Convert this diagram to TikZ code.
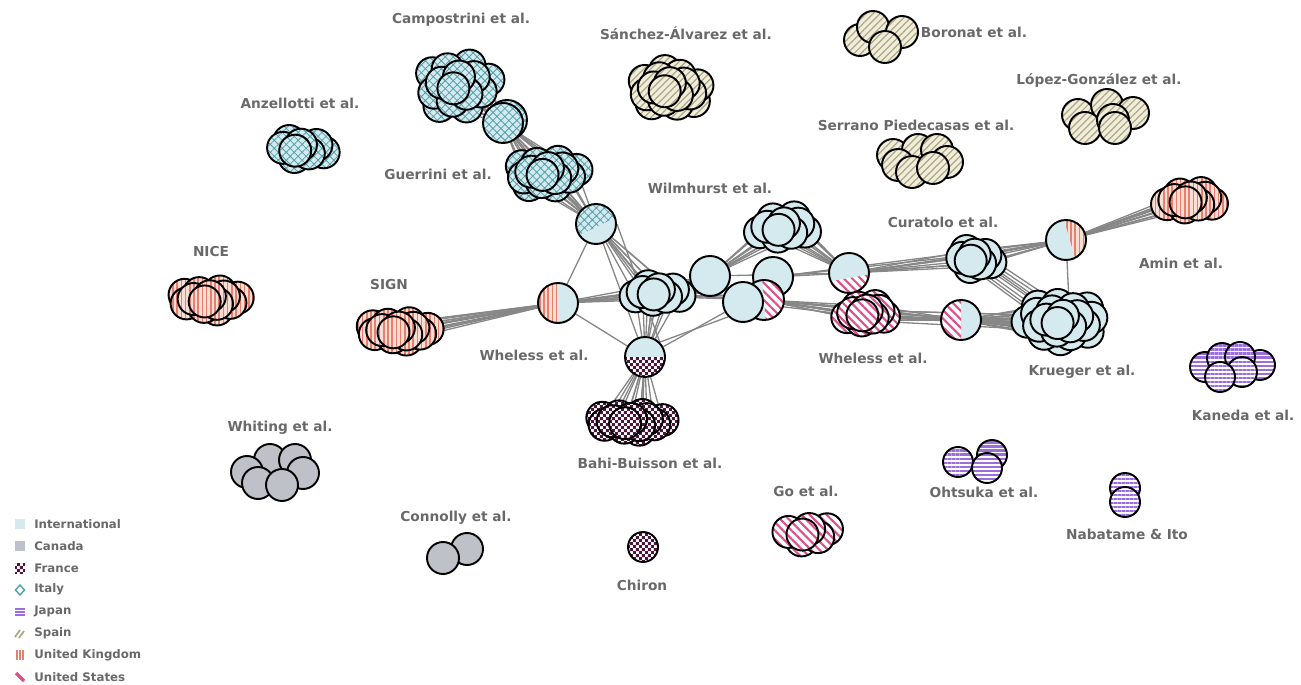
\documentclass[tikz,border=0pt]{standalone}
\usepackage{fontspec}
\setmainfont{DejaVu Sans}
\usetikzlibrary{patterns.meta, backgrounds}

\definecolor{intl}{RGB}{212,234,239}
\definecolor{canada}{RGB}{190,194,200}
\definecolor{france}{RGB}{78,22,62}
\definecolor{italy}{RGB}{80,160,172}
\definecolor{japan}{RGB}{155,110,220}
\definecolor{spainbg}{RGB}{240,237,220}
\definecolor{spain}{RGB}{176,168,128}
\definecolor{ukbg}{RGB}{250,222,212}
\definecolor{uk}{RGB}{228,128,108}
\definecolor{usa}{RGB}{220,80,140}
\definecolor{labelgray}{RGB}{105,105,105}
\definecolor{edgegray}{RGB}{135,135,135}

% feines Schachbrett fuer Frankreich
\pgfdeclarepattern{
  name=finechecker, type=uncolored,
  bottom left={\pgfpointorigin}, top right={\pgfpoint{3.4pt}{3.4pt}},
  tile size={\pgfpoint{3.4pt}{3.4pt}},
  code={\pgfpathrectangle{\pgfpointorigin}{\pgfpoint{1.7pt}{1.7pt}}
        \pgfpathrectangle{\pgfpoint{1.7pt}{1.7pt}}{\pgfpoint{1.7pt}{1.7pt}}
        \pgfusepath{fill}}
}

\tikzset{
  disc/.style={circle, draw=black, line width=1.1pt, inner sep=0pt, minimum size=0.64cm},
  smalldisc/.style={minimum size=0.6cm},
  hub/.style={disc, fill=intl, minimum size=0.8cm},
  itpat/.style={preaction={fill=intl}, pattern={Hatch[angle=45, distance=3.2pt, line width=0.45pt]}, pattern color=italy},
  sppat/.style={preaction={fill=spainbg}, pattern={Lines[angle=45, distance=2.8pt, line width=0.7pt]}, pattern color=spain},
  ukpat/.style={preaction={fill=ukbg}, pattern={Lines[angle=90, distance=2.4pt, line width=0.9pt]}, pattern color=uk},
  uspat/.style={preaction={fill=white}, pattern={Lines[angle=-45, distance=3.4pt, line width=1.2pt]}, pattern color=usa},
  jppat/.style={preaction={fill=white}, pattern={Lines[angle=0, distance=2.3pt, line width=1.35pt]}, pattern color=japan},
  frpat/.style={preaction={fill=white}, pattern=finechecker, pattern color=france},
  intc/.style={disc, fill=intl},
  canc/.style={disc, fill=canada},
  itc/.style={disc, itpat},
  spc/.style={disc, sppat},
  ukc/.style={disc, ukpat},
  usc/.style={disc, uspat},
  frc/.style={disc, frpat},
  japc/.style={disc, smalldisc, jppat},
  ithub/.style={hub, itpat},
  halfpat/.style n args={3}{path picture={
      \fill[#1] (path picture bounding box.center) ++(#2+90:#3) ++(#2:1cm)
        -- ++(#2+90:1cm) -- ++(#2+180:2cm) -- ++(#2-90:1cm) -- cycle;}},
  lbl/.style={text=labelgray, font=\bfseries\fontsize{7.8}{9}\selectfont, inner sep=0pt},
  legtxt/.style={text=labelgray, font=\bfseries\fontsize{6.7}{8}\selectfont, anchor=west, inner sep=0pt},
  edge/.style={draw=edgegray, line width=0.75pt}
}

% cluster of circles: name, style, cx, cy, count, x spread, y spread
\newcommand\nodecluster[7]{%
  \foreach \k in {#5,...,1}{
    \node[#2] (#1-\k) at ({#3+#6*sqrt((\k-0.5)/#5)*cos(137.5*\k)},
                          {#4+#7*sqrt((\k-0.5)/#5)*sin(137.5*\k)}) {};
  }}
% lines from every circle of a cluster to one node
\newcommand\edgefan[3]{\foreach \k in {1,...,#2}{\draw[edge] (#1-\k) -- (#3);}}
% lines between two clusters, circle by circle
\newcommand\edgebundle[3]{\foreach \k in {1,...,#3}{\draw[edge] (#1-\k) -- (#2-\k);}}

\begin{document}
\begin{tikzpicture}[x=0.02cm, y=-0.02cm]
    \useasboundingbox (0,0) rectangle (1301,685);

    % Italy
    \nodecluster{campo}{itc}{458}{85}{14}{33}{26}
    \node[ithub] (ital2) at (507,120) {};
    \node[ithub] (ital1) at (503,123) {};
    \nodecluster{guerr}{itc}{547}{173}{14}{32}{15}
    \node[hub, halfpat={itpat}{26}{-0.056cm}] (itint) at (596,224) {};
    \nodecluster{anzel}{itc}{300}{149}{8}{26}{10}

    % Spain
    \nodecluster{sanch}{spc}{669}{89}{16}{33}{19}
    \foreach \x/\y [count=\k] in {860/40, 873/27, 902/32, 885/47}
        \node[spc] (boro-\k) at (\x,\y) {};
    \foreach \x/\y [count=\k] in {1078/115, 1107/105, 1133/113, 1085/128, 1113/120, 1115/128}
        \node[spc] (lopez-\k) at (\x,\y) {};
    \foreach \x/\y [count=\k] in {893/155, 918/150, 937/150, 947/162, 898/165, 912/172, 933/168}
        \node[spc] (serr-\k) at (\x,\y) {};

    % International core
    \nodecluster{wilm}{intc}{783}{228}{10}{27}{12}
    \nodecluster{curat}{intc}{974}{259}{8}{18}{10}
    \node[hub, halfpat={ukpat}{-74}{0.075cm}] (ukint2) at (1066,240) {};
    \nodecluster{amin}{ukc}{1190}{201}{10}{27}{9}
    \nodecluster{krueg}{intc}{1062}{321}{20}{38}{19}
    \node[hub, halfpat={uspat}{90}{0cm}] (usint3) at (961,320) {};
    \nodecluster{whel2}{usc}{866}{314}{10}{22}{9}
    \node[hub, halfpat={uspat}{190}{0.1cm}] (usint2) at (849,273) {};
    \node[hub] (int2) at (773,277) {};
    \node[hub, halfpat={uspat}{-85}{0cm}] (usint1) at (764,300) {};
    \node[hub] (int3) at (743,302) {};
    \node[hub] (int1) at (710,276) {};
    \nodecluster{intcl}{intc}{658}{293}{9}{25}{9}
    \node[hub, halfpat={ukpat}{92}{0cm}] (ukint) at (558,303) {};
    \node[hub, halfpat={frpat}{180}{0cm}] (frint) at (645,357) {};

    % United Kingdom, France
    \nodecluster{sign}{ukc}{398}{331}{13}{31}{10}
    \nodecluster{nice}{ukc}{209}{300}{13}{30}{11}
    \nodecluster{bahi}{frc}{630}{422}{13}{34}{9}
    \node[frc, smalldisc] (chiron) at (643,547) {};

    % Canada
    \foreach \x/\y [count=\k] in {270/460, 295/460, 247/472, 303/473, 258/483, 282/485}
        \node[canc] (whit-\k) at (\x,\y) {};
    \node[canc] (conn-1) at (467,549) {};
    \node[canc] (conn-2) at (443,558) {};

    % United States, Japan
    \nodecluster{go}{usc}{808}{533}{6}{26}{8}
    \foreach \x/\y [count=\k] in {958/462, 992/455, 987/468}
        \node[japc] (ohts-\k) at (\x,\y) {};
    \node[japc] (naba-1) at (1125,488) {};
    \node[japc] (naba-2) at (1125,502) {};
    \foreach \x/\y [count=\k] in {1205/367, 1260/365, 1222/358, 1240/357, 1242/372, 1220/377}
        \node[japc] (kane-\k) at (\x,\y) {};

    % Verbindungen
    \begin{pgfonlayer}{background}
        \edgefan{campo}{14}{ital1}
        \edgefan{guerr}{14}{ital1}
        \edgefan{guerr}{14}{itint}
        \draw[edge] (itint) -- (ukint);
        \draw[edge] (itint) -- (frint);
        \draw[edge] (itint.east) -- (frint.north east);
        \edgefan{intcl}{9}{itint}
        \edgefan{sign}{13}{ukint}
        \edgefan{intcl}{9}{ukint}
        \draw[edge] (ukint) -- (frint);
        \edgefan{intcl}{9}{frint}
        \edgefan{intcl}{9}{int1}
        \edgefan{intcl}{5}{usint1}
        \edgefan{bahi}{13}{frint}
        \draw[edge] (frint) -- (int3);
        \draw[edge] (frint.north east) -- (int3.south west);
        \edgefan{wilm}{10}{int1}
        \edgefan{wilm}{10}{usint2}
        \draw[edge] (int1) -- (usint2);
        \draw[edge] (int2) -- (usint2);
        \draw[edge] (int2) -- (curat-2);
        \draw[edge] (int2) -- (ukint2);
        \draw[edge] (int3) -- (whel2-3);
        \edgefan{whel2}{10}{usint1}
        \edgefan{whel2}{10}{usint3}
        \edgebundle{whel2}{krueg}{6}
        \edgefan{krueg}{20}{usint3}
        \edgefan{curat}{8}{usint2}
        \edgefan{curat}{8}{ukint2}
        \edgebundle{curat}{krueg}{8}
        \edgefan{amin}{10}{ukint2}
        \draw[edge] (ukint2) -- (krueg-3);
    \end{pgfonlayer}

    % Beschriftungen
    \node[lbl] (l-campo) at (461,20) {Campostrini et al.};
    \node[lbl] (l-anzel) at (300,103) {Anzellotti et al.};
    \node[lbl] (l-sanch) at (686,33) {Sánchez-Álvarez et al.};
    \node[lbl] (l-boro) at (974,32) {Boronat et al.};
    \node[lbl] (l-lopez) at (1099,80) {López-González et al.};
    \node[lbl] (l-serr) at (916,125) {Serrano Piedecasas et al.};
    \node[lbl] (l-guerr) at (438,174) {Guerrini et al.};
    \node[lbl] (l-wilm) at (710,188) {Wilmhurst et al.};
    \node[lbl] (l-curat) at (943,222) {Curatolo et al.};
    \node[lbl] (l-amin) at (1181,263) {Amin et al.};
    \node[lbl] (l-nice) at (211,252) {NICE};
    \node[lbl] (l-sign) at (389,285) {SIGN};
    \node[lbl] (l-whel1) at (534,355) {Wheless et al.};
    \node[lbl] (l-whel2) at (873,358) {Wheless et al.};
    \node[lbl] (l-krueg) at (1082,372) {Krueger et al.};
    \node[lbl] (l-kane) at (1243,415) {Kaneda et al.};
    \node[lbl] (l-whit) at (280,428) {Whiting et al.};
    \node[lbl] (l-bahi) at (650,463) {Bahi-Buisson et al.};
    \node[lbl] (l-go) at (806,491) {Go et al.};
    \node[lbl] (l-ohts) at (984,492) {Ohtsuka et al.};
    \node[lbl] (l-conn) at (456,518) {Connolly et al.};
    \node[lbl] (l-chiron) at (642,585) {Chiron};
    \node[lbl] (l-naba) at (1127,534) {Nabatame \& Ito};

    % Legende
    \foreach \t [count=\i] in {International, Canada, France, Italy, Japan, Spain, United Kingdom, United States}
        \node[legtxt] (leg\i) at (34,{502.1+21.9*\i}) {\t};
    \fill[intl] (15,519) rectangle (25,529);
    \fill[canada] (15,541) rectangle (25,551);
    \path[frpat] (15,563) rectangle (25,573);
    \draw[italy, line width=0.8pt] (20,585) -- (24.5,590) -- (20,595) -- (15.5,590) -- cycle;
    \foreach \d in {-3,0,3}
        \draw[japan, line width=1pt] (15,{612+\d}) -- (25,{612+\d});
    \draw[spain, line width=1pt] (15,637) -- (20,630) (19,638) -- (24,631);
    \foreach \d in {-3,0,3}
        \draw[uk, line width=1pt] ({20+\d},650) -- ({20+\d},660);
    \draw[usa, line width=2pt] (16,673) -- (24,681);
\end{tikzpicture}
\end{document}
